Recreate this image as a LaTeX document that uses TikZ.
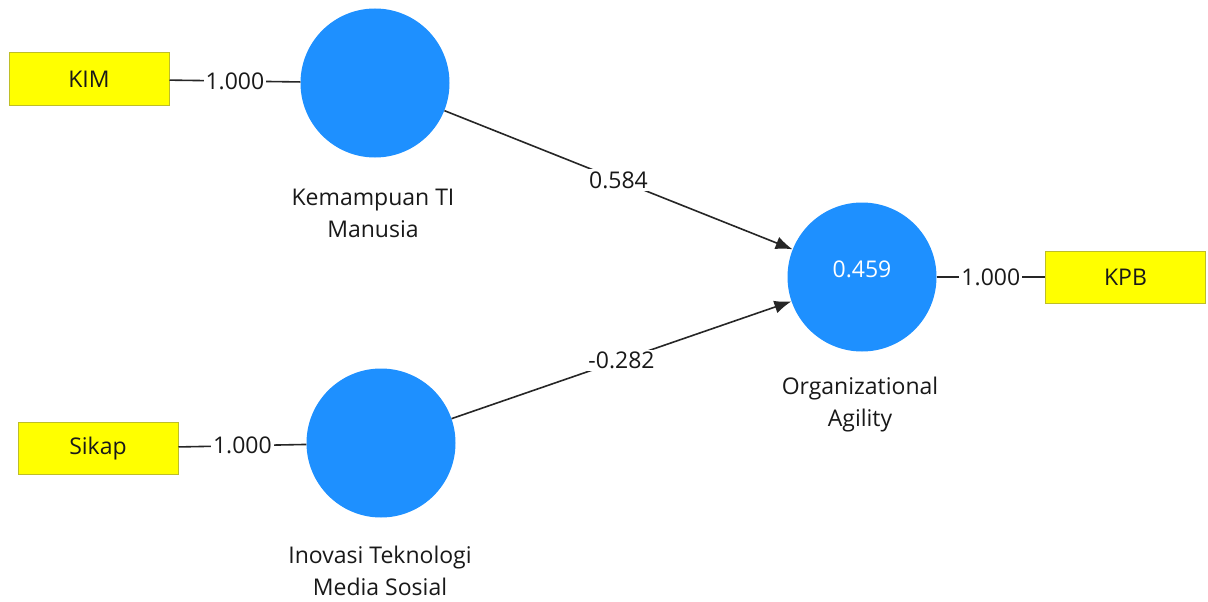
\documentclass[tikz,border=0pt]{standalone}
\usepackage{fontspec}
\setmainfont{Open Sans}
\usetikzlibrary{arrows.meta}
\definecolor{lvblue}{RGB}{30,144,255}
\definecolor{mvborder}{RGB}{190,190,40}
\definecolor{mvfill}{RGB}{255,255,0}
\begin{document}
\begin{tikzpicture}[x=1pt,y=-1pt,
 lv/.style={circle, fill=lvblue, minimum size=149pt, inner sep=0pt},
 mv/.style={rectangle, fill=mvfill, draw=mvborder, line width=1pt, minimum width=160pt, minimum height=52pt, inner sep=0pt, font=\fontsize{23}{28}\selectfont, text=black!90},
 lbl/.style={font=\fontsize{23}{32}\selectfont, align=center, text=black!90},
 coef/.style={fill=white, inner sep=2pt, font=\fontsize{23}{28}\selectfont, text=black!90},
 conn/.style={line width=1.6pt, draw=black!85},
 pathArrow/.style={conn, -{Latex[length=17pt,width=13pt]}}
]
\useasboundingbox[fill=white] (0,0) rectangle (1208,602);
% nodes
\node[mv] (kim) at (89,79) {KIM};
\node[lv] (kti) at (375,83) {};
\node[mv] (sikap) at (98,448.5) {Sikap};
\node[lv] (itm) at (381,443) {};
\node[lv] (oa) at (862,277) {};
\node[text=white, font=\fontsize{23}{28}\selectfont] (oav) at (862,269) {0.459};
\node[mv] (kpb) at (1125.5,277) {KPB};
% labels
\node[lbl] (ktil) at (373,213) {Kemampuan TI\\Manusia};
\node[lbl] (itml) at (380,571) {Inovasi Teknologi\\Media Sosial};
\node[lbl] (oal) at (860,405) {Organizational\\Agility};
% connectors
\draw[conn] (kim) -- (kti) node[coef, midway] {1.000};
\draw[conn] (sikap) -- (itm) node[coef, midway] {1.000};
\draw[conn] (oa) -- (kpb) node[coef, midway] {1.000};
\draw[pathArrow] (kti) -- (oa) node[coef, midway] {0.584};
\draw[pathArrow] (itm) -- (oa) node[coef, midway] {-0.282};
\end{tikzpicture}
\end{document}
